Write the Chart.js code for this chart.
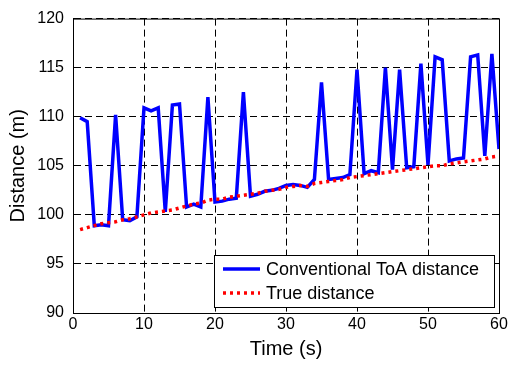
<!DOCTYPE html>
<html>
<head>
<meta charset="utf-8">
<script src="https://cdn.jsdelivr.net/npm/chart.js@4/dist/chart.umd.min.js"></script>
<style>
  html, body { margin: 0; padding: 0; background: #fff; }
  #wrap { width: 511px; height: 365px; }
</style>
</head>
<body>
<div id="wrap"><canvas id="c" width="511" height="365"></canvas></div>
<script>
// ---------- data ----------
const TIMES = [1,2,3,4,5,6,7,8,9,10,11,12,13,14,15,16,17,18,19,20,
  21,22,23,24,25,26,27,28,29,30,31,32,33,34,35,36,37,38,39,40,
  41,42,43,44,45,46,47,48,49,50,51,52,53,54,55,56,57,58,59,60];

const TOA_DIST = [109.9,109.5,98.9,99.0,98.9,110.2,99.5,99.4,99.8,110.9,
  110.6,110.9,100.3,111.2,111.3,100.8,101.1,100.8,112.0,101.3,
  101.4,101.6,101.7,112.5,101.9,102.1,102.4,102.5,102.7,103.0,
  103.1,103.0,102.8,103.6,113.5,103.6,103.7,103.8,104.1,114.8,
  104.2,104.5,104.3,115.0,104.6,114.8,104.8,104.9,115.4,105.1,
  116.1,115.8,105.5,105.7,105.8,116.1,116.3,106.0,116.4,106.7];

const TRUE_DIST = [98.5,98.7,98.9,99.1,99.2,99.3,99.5,99.6,99.8,100.0,
  100.2,100.3,100.4,100.5,100.7,100.9,101.1,101.2,101.5,101.6,
  101.6,101.8,101.9,102.0,102.1,102.2,102.4,102.5,102.6,102.8,
  102.9,103.0,102.9,103.2,103.3,103.4,103.5,103.6,103.8,103.9,
  104.0,104.1,104.2,104.3,104.4,104.5,104.6,104.7,104.8,104.9,
  105.0,105.0,105.2,105.3,105.4,105.5,105.6,105.7,105.9,106.0];

const SERIES_NAMES = ['Conventional ToA distance', 'True distance'];

const FONT = '"Liberation Sans", Arial, Helvetica, sans-serif';

const toPoints = (ys) => TIMES.map((t, i) => ({ x: t, y: ys[i] }));

// frame round the plot + legend box inside it
const framePlugin = {
  id: 'frame',
  afterDraw(chart) {
    const { ctx, chartArea: a } = chart;
    ctx.save();
    ctx.strokeStyle = '#000';
    ctx.lineWidth = 1;
    ctx.setLineDash([]);
    ctx.strokeRect(a.left + 0.5, a.top + 0.5, a.right - a.left, a.bottom - a.top);

    // legend
    const bx = 214, by = 255, bw = 280, bh = 52;
    ctx.fillStyle = '#fff';
    ctx.fillRect(bx, by, bw, bh);
    ctx.strokeRect(bx + 0.5, by + 0.5, bw, bh);
    ctx.font = '18px ' + FONT;
    ctx.textBaseline = 'middle';
    chart.data.datasets.forEach((ds, i) => {
      const y = by + 14 + i * 24;
      ctx.beginPath();
      ctx.strokeStyle = ds.borderColor;
      ctx.lineWidth = ds.borderWidth;
      ctx.setLineDash(ds.borderDash || []);
      ctx.moveTo(bx + 9, y);
      ctx.lineTo(bx + 46, y);
      ctx.stroke();
      ctx.setLineDash([]);
      ctx.fillStyle = '#000';
      ctx.fillText(ds.label, bx + 52, y + 1);
    });
    ctx.restore();
  }
};

new Chart(document.getElementById('c'), {
  type: 'line',
  data: {
    datasets: [
      {
        label: SERIES_NAMES[0],
        data: toPoints(TOA_DIST),
        borderColor: '#0000ff',
        borderWidth: 3.5,
        pointRadius: 0,
        tension: 0,
        order: 2,
      },
      {
        label: SERIES_NAMES[1],
        data: toPoints(TRUE_DIST),
        borderColor: '#ff0000',
        borderWidth: 3.5,
        borderDash: [3, 4],
        pointRadius: 0,
        tension: 0,
        order: 1,
      },
    ],
  },
  options: {
    responsive: false,
    animation: false,
    layout: { autoPadding: false, padding: { left: 0, right: 12, top: 12, bottom: 0 } },
    plugins: { legend: { display: false }, tooltip: { enabled: false } },
    scales: {
      x: {
        type: 'linear',
        min: 0, max: 60,
        afterFit: (s) => { s.height = 52; },
        ticks: { stepSize: 10, color: '#000', font: { family: FONT, size: 16 }, padding: 2 },
        grid: { color: '#000', lineWidth: 1, drawTicks: false },
        border: { display: true, color: '#000', dash: [7, 4] },
        title: { display: true, text: 'Time (s)', color: '#000', font: { family: FONT, size: 20 }, padding: { top: 0 } },
      },
      y: {
        min: 90, max: 120,
        afterFit: (s) => { s.width = 73; },
        ticks: { stepSize: 5, color: '#000', font: { family: FONT, size: 16 }, padding: 9 },
        grid: { color: '#000', lineWidth: 1, drawTicks: false },
        border: { display: true, color: '#000', dash: [7, 4] },
        title: { display: true, text: 'Distance (m)', color: '#000', font: { family: FONT, size: 20 }, padding: { top: 6, bottom: 0 } },
      },
    },
  },
  plugins: [framePlugin],
});
</script>
</body>
</html>
